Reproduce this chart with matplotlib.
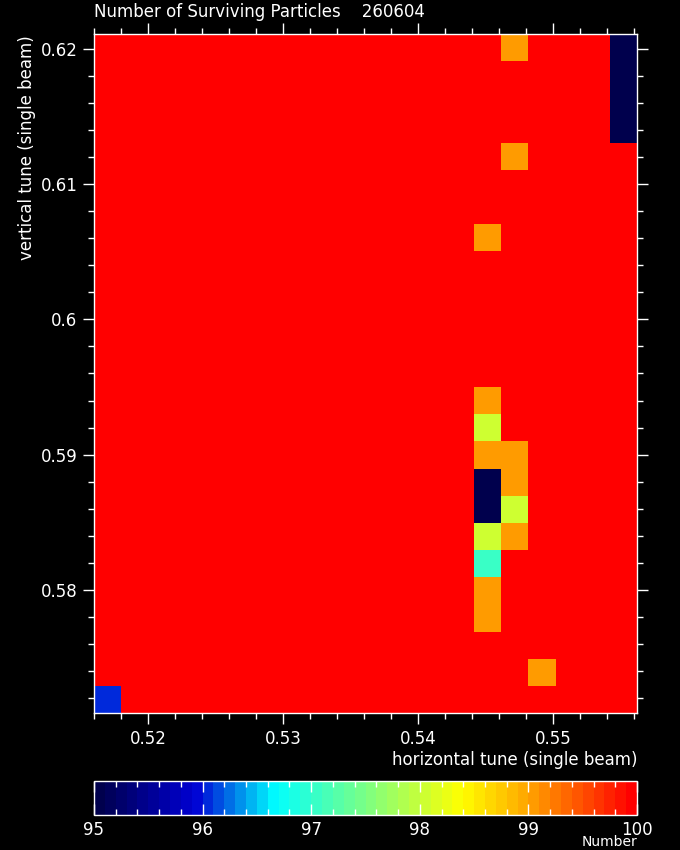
import numpy as np
import matplotlib
matplotlib.use("Agg")
import matplotlib.pyplot as plt
from matplotlib.colors import LinearSegmentedColormap
from matplotlib.ticker import MultipleLocator

# ---- data -------------------------------------------------------------
title = "Number of Surviving Particles    260604"
xlabel = "horizontal tune (single beam)"
ylabel = "vertical tune (single beam)"
cbar_label = "Number"

qx_range = (0.516, 0.5562)   # horizontal tune span of scan grid
qy_range = (0.5709, 0.6211)  # vertical tune span of scan grid

# surviving particles, rows from top (highest vertical tune) to bottom
survivors = [
    [100]*15 + [99] + [100]*3 + [95],
    [100]*19 + [95],
    [100]*19 + [95],
    [100]*19 + [95],
    [100]*15 + [99] + [100]*4,
    [100]*20,
    [100]*20,
    [100]*14 + [99] + [100]*5,
    [100]*20,
    [100]*20,
    [100]*20,
    [100]*20,
    [100]*20,
    [100]*14 + [99] + [100]*5,
    [100]*14 + [98] + [100]*5,
    [100]*14 + [99, 99] + [100]*4,
    [100]*14 + [95, 99] + [100]*4,
    [100]*14 + [95, 98] + [100]*4,
    [100]*14 + [98, 99] + [100]*4,
    [100]*14 + [97] + [100]*5,
    [100]*14 + [99] + [100]*5,
    [100]*14 + [99] + [100]*5,
    [100]*20,
    [100]*16 + [99] + [100]*3,
    [96] + [100]*19,
]
vmin, vmax = 95, 100
cbar_ticks = [95, 96, 97, 98, 99, 100]

# ---- figure -----------------------------------------------------------
Z = np.flipud(np.array(survivors, dtype=float))
ny, nx = Z.shape
xe = np.linspace(qx_range[0], qx_range[1], nx + 1)
ye = np.linspace(qy_range[0], qy_range[1], ny + 1)

anchors = [
    (95.0, (0.0, 0.0, 0.30)),
    (95.9, (0.0, 0.0, 0.83)),
    (96.65, (0.0, 1.0, 1.0)),
    (98.4, (1.0, 1.0, 0.0)),
    (99.0, (1.0, 0.66, 0.0)),
    (100.0, (1.0, 0.0, 0.0)),
]
cmap = LinearSegmentedColormap.from_list(
    "pg", [((v - vmin) / (vmax - vmin), c) for v, c in anchors], N=50)

plt.rcParams['font.family'] = ['DejaVu Sans']
fs = 12
W, H = 680, 850
fig = plt.figure(figsize=(W/100, H/100), dpi=100, facecolor='black')

ax = fig.add_axes([94/W, 1-713/H, (637-94)/W, (713-34)/H])
ax.set_facecolor('black')
mesh = ax.pcolormesh(xe, ye, Z, cmap=cmap, vmin=vmin, vmax=vmax)
ax.set_xlim(qx_range)
ax.set_ylim(qy_range)
ax.xaxis.set_major_locator(MultipleLocator(0.01))
ax.xaxis.set_minor_locator(MultipleLocator(0.002))
ax.yaxis.set_major_locator(MultipleLocator(0.01))
ax.yaxis.set_minor_locator(MultipleLocator(0.002))
ax.xaxis.set_major_formatter(plt.FuncFormatter(lambda v, p: f"{v:g}"))
ax.yaxis.set_major_formatter(plt.FuncFormatter(lambda v, p: f"{v:g}"))
ax.tick_params(which='both', direction='out', colors='white',
               top=True, right=True, labelsize=fs, width=1)
ax.tick_params(which='major', length=8, pad=4)
ax.tick_params(which='minor', length=4)
for s in ax.spines.values():
    s.set_color('white')
    s.set_linewidth(1)

fig.text(94/W, 1-12/H, title, color='white', fontsize=fs, ha='left', va='center')
fig.text(637/W, 1-760/H, xlabel, color='white', fontsize=fs, ha='right', va='center')
fig.text(27/W, 1-35/H, ylabel, color='white', fontsize=fs, ha='center', va='top',
         rotation=90)

cax = fig.add_axes([94/W, 1-815/H, (637-94)/W, (815-781)/H])
cb = fig.colorbar(mesh, cax=cax, orientation='horizontal', ticks=cbar_ticks)
cb.outline.set_edgecolor('white')
cb.outline.set_linewidth(1)
cax.xaxis.set_minor_locator(MultipleLocator(0.2))
cax.tick_params(which='both', direction='in', colors='white', top=True,
                bottom=True, labelsize=fs, width=1)
cax.tick_params(which='major', length=8, pad=4)
cax.tick_params(which='minor', length=4)
cax.set_xticklabels([str(t) for t in cbar_ticks])
fig.text(637/W, 1/H, cbar_label, color='white', fontsize=10, ha='right',
         va='bottom')

fig.savefig("out.png", dpi=100, facecolor='black')
